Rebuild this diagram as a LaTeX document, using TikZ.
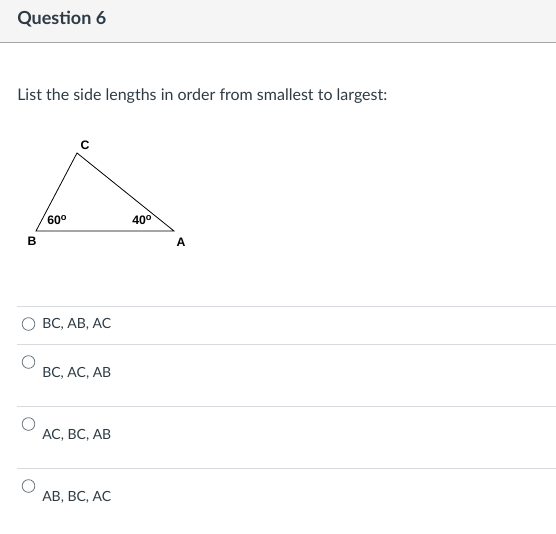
\documentclass[tikz,border=0pt]{standalone}
\usepackage{fontspec}
\setmainfont{Lato}
\newfontfamily\arialfont{Liberation Sans}
\definecolor{txt}{HTML}{2D3B45}
\definecolor{hdrbg}{HTML}{F5F5F5}
\definecolor{hdrline}{HTML}{A5A5A5}
\definecolor{sep}{HTML}{D7DADE}
\definecolor{radio}{HTML}{6B7780}
\begin{document}
\begin{tikzpicture}[x=0.75pt,y=-0.75pt,
  hdr/.style={anchor=west,inner sep=0,text=txt,font=\fontsize{13.5}{16}\selectfont\bfseries},
  body/.style={anchor=west,inner sep=0,text=txt,font=\fontsize{12}{14}\selectfont},
  opt/.style={anchor=west,inner sep=0,text=txt,font=\fontsize{10.5}{12}\selectfont},
  lbl/.style={inner sep=0,font=\arialfont\bfseries\fontsize{9.2}{10}\selectfont},
  sepline/.style={draw=sep,line width=0.75pt},
  radiobtn/.style={circle,draw=radio,line width=0.6pt,minimum size=9.5pt,inner sep=0}]
\useasboundingbox (0,0) rectangle (556,533);
\fill[hdrbg] (0,0) rectangle (556,42);
\draw[hdrline,line width=0.75pt] (0,42) -- (556,42);
\node[hdr] (title) at (17,19) {Question 6};
\node[body] (prompt) at (17,96) {List the side lengths in order from smallest to largest:};
% triangle
\coordinate (B) at (36,231);
\coordinate (A) at (174,231);
\coordinate (C) at (77,153);
\draw[line width=0.6pt] (B) -- (A) -- (C) -- cycle;
\node[lbl] (lC) at (85,145) {C};
\node[lbl] (lB) at (32,241) {B};
\node[lbl] (lA) at (181,242) {A};
\node[lbl] (a60) at (57,220) {60\raisebox{0.5ex}{\fontsize{7}{8}\selectfont o}};
\node[lbl] (a40) at (142,220) {40\raisebox{0.5ex}{\fontsize{7}{8}\selectfont o}};
% options
\coordinate (s1a) at (17,306); \coordinate (s1b) at (556,306);
\coordinate (s2a) at (17,344); \coordinate (s2b) at (556,344);
\coordinate (s3a) at (17,406); \coordinate (s3b) at (556,406);
\coordinate (s4a) at (17,468); \coordinate (s4b) at (556,468);
\draw[sepline] (s1a) -- (s1b);
\draw[sepline] (s2a) -- (s2b);
\draw[sepline] (s3a) -- (s3b);
\draw[sepline] (s4a) -- (s4b);
\node[radiobtn] (r1) at (28.5,324) {};
\node[radiobtn] (r2) at (28.5,362) {};
\node[radiobtn] (r3) at (28.5,424) {};
\node[radiobtn] (r4) at (28.5,486) {};
\node[opt] (o1) at (42,324) {BC, AB, AC};
\node[opt] (o2) at (42,373) {BC, AC, AB};
\node[opt] (o3) at (42,435) {AC, BC, AB};
\node[opt] (o4) at (42,497) {AB, BC, AC};
\end{tikzpicture}
\end{document}
